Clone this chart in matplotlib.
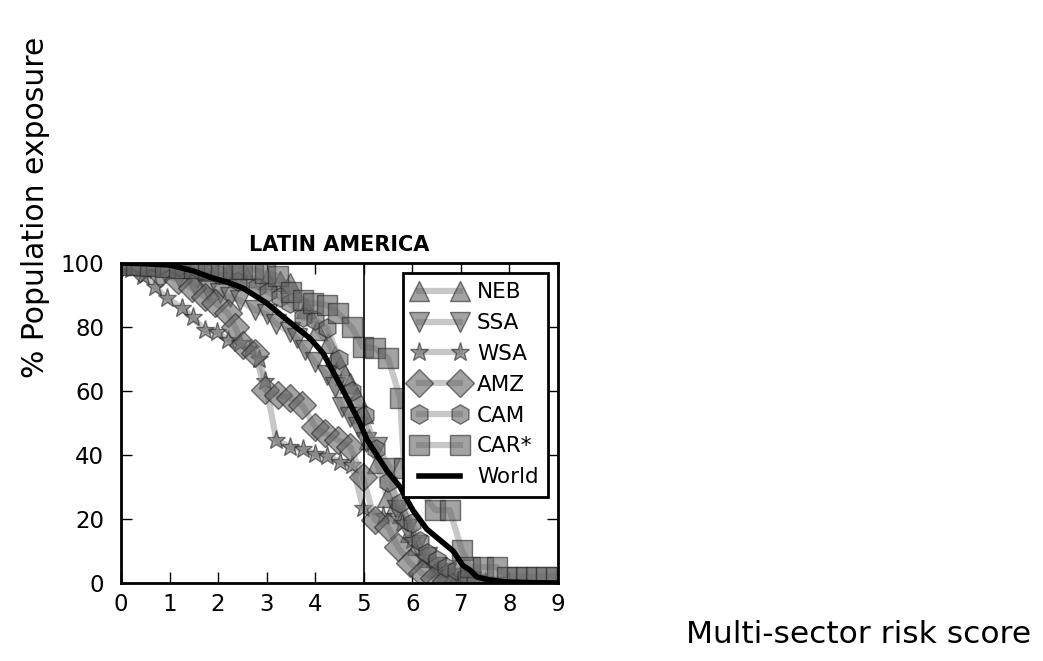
import matplotlib
matplotlib.use("Agg")
import matplotlib.pyplot as plt
import numpy as np

# score values and % population exposure
neb_x = [0, 0.3, 0.6, 1.0, 1.4, 1.8, 2.2, 2.6, 3.0, 3.27, 3.48, 3.8, 4.04, 4.27, 4.4, 4.51,
         4.62, 4.72, 4.86, 4.98, 5.1, 5.27, 5.48, 5.65, 5.79, 5.95, 6.1, 6.3, 6.5, 6.7, 6.9, 7.1]
neb_y = [100, 99.8, 99.5, 99, 98.5, 97.5, 96.5, 95.5, 95, 94.5, 93.7, 86, 79, 75, 71, 68,
         65, 62.5, 58, 53, 45, 37.5, 27, 24, 21.9, 16, 12, 8, 5, 3, 1.5, 0.5]

ssa_x = [0, 0.3, 0.6, 0.9, 1.2, 1.5, 1.79, 2.04, 2.24, 2.45, 2.76, 3.0, 3.2, 3.48, 3.62, 3.79,
         4.0, 4.24, 4.4, 4.55, 4.72, 4.88, 5.05, 5.27, 5.54, 5.68, 5.9, 6.1, 6.3, 6.5, 6.7,
         6.95, 7.2]
ssa_y = [100, 99.5, 98.5, 97, 95.5, 93.5, 91.5, 90.6, 89.4, 88.4, 85.3, 84, 81, 78.4, 76.5, 72.8,
         69, 65, 61.3, 55, 52, 48.8, 44, 42.5, 36, 22.8, 17, 12, 8, 5, 3, 1.5, 0.5]

wsa_x = [0, 0.2, 0.45, 0.7, 0.95, 1.26, 1.48, 1.73, 1.98, 2.2, 2.45, 2.66, 2.85, 2.97, 3.2,
         3.48, 3.75, 4.0, 4.24, 4.51, 4.76, 4.99, 5.4, 5.79, 6.0, 6.22, 6.5, 6.8, 7.1, 7.5]
wsa_y = [100, 98, 96, 92.5, 89, 86, 83, 79, 78.5, 76, 75, 73, 70, 63, 44.7,
         42.5, 41.8, 40.3, 39.7, 37.8, 36.9, 23.4, 21, 18.7, 13.4, 8, 4, 2, 1, 0.3]

amz_x = [0, 0.4, 0.8, 1.17, 1.46, 1.73, 1.94, 2.2, 2.35, 2.51, 2.76, 2.97, 3.23, 3.48, 3.73,
         4.0, 4.2, 4.47, 4.72, 4.98, 5.23, 5.5, 5.7, 5.95, 6.2, 6.45, 6.7]
amz_y = [100, 98.5, 97, 94.7, 92.2, 89.4, 87.5, 84.4, 80, 74.4, 71.9, 60.3, 58.7, 57.8, 55.6,
         48.8, 46.9, 44.7, 42.5, 33, 19.7, 17.5, 11.3, 6.3, 3, 1.5, 0.5]

cam_x = [0, 0.4, 0.8, 1.2, 1.6, 2.0, 2.4, 2.8, 3.03, 3.27, 3.48, 3.75, 4.0, 4.24, 4.5, 4.75,
         5.02, 5.25, 5.5, 5.75, 6.0, 6.15, 6.3, 6.5, 6.7, 6.9, 7.1, 7.3]
cam_y = [100, 99.8, 99.5, 99, 98, 96.5, 94.5, 92.5, 90.9, 89.4, 87.5, 83, 82.2, 79.7, 70, 60,
         52.5, 42, 31.6, 25, 18.7, 13, 9.4, 7.2, 5, 4, 2, 1]

car_x = [0, 0.3, 0.6, 0.9, 1.2, 1.5, 1.8, 2.05, 2.3, 2.5, 2.72, 2.97, 3.23, 3.5, 3.75, 3.95,
         4.24, 4.47, 4.75, 4.98, 5.23, 5.5, 5.75, 5.83, 6.47, 6.77, 7.02, 7.19, 7.45, 7.74,
         7.95, 8.15, 8.35, 8.55, 8.75, 8.95]
car_y = [99.5, 99.3, 99, 98.8, 98.6, 98.4, 98.3, 98.2, 98.2, 98.2, 98, 96.9, 96, 91, 88.4, 87.5,
         86.9, 84.4, 80, 73.8, 73.4, 70.3, 57.8, 35.9, 22.8, 22.8, 10.3, 5, 5, 5,
         2, 2, 2, 2, 2, 2]

world_x = [0, 0.5, 1.0, 1.5, 1.83, 2.2, 2.51, 3.0, 3.42, 3.89, 4.16, 4.57, 4.92, 5.07, 5.48,
           5.75, 5.89, 6.01, 6.3, 6.57, 6.84, 7.04, 7.19, 7.33, 7.6, 8.0, 8.5, 9.0]
world_y = [100, 99.8, 99.4, 97.5, 95.6, 94, 92.2, 87.5, 82.2, 76.5, 71.9, 60.3, 50, 44.7, 35,
           30, 26, 22.8, 16.8, 13.4, 10, 5.5, 4, 1.9, 0.9, 0.3, 0.1, 0]

series = [("NEB", neb_x, neb_y, "^", 15),
          ("SSA", ssa_x, ssa_y, "v", 15),
          ("WSA", wsa_x, wsa_y, "*", 14),
          ("AMZ", amz_x, amz_y, "D", 14),
          ("CAM", cam_x, cam_y, "h", 14),
          ("CAR*", car_x, car_y, "s", 14)]

plt.rcParams['font.family'] = ['DejaVu Sans']

fig = plt.figure(figsize=(10.43, 6.61), dpi=100)
ax = fig.add_axes([0.116, 0.118, 0.419, 0.484])

for name, x, y, m, ms in series:
    ax.plot(x, y, marker=m, markersize=ms, lw=4.5,
            color=(0.6, 0.6, 0.6, 0.55),
            mfc=(0.4, 0.4, 0.4, 0.6), mec=(0.15, 0.15, 0.15, 0.6), mew=1,
            label=name)
ax.plot(world_x, world_y, color='black', lw=4, label='World')
ax.axvline(5, color='black', lw=1.2)

ax.set_xlim(0, 9)
ax.set_ylim(0, 100)
ax.set_xticks(range(0, 10))
ax.set_yticks(range(0, 101, 20))
ax.tick_params(direction='in', length=8, width=1, top=True, right=True, labelsize=16.5)
ax.tick_params(axis='y', pad=12)
ax.tick_params(axis='x', pad=7)
for sp in ax.spines.values():
    sp.set_linewidth(2)
ax.set_title("LATIN AMERICA", fontsize=15, fontweight='bold', pad=9)

leg = ax.legend(loc='upper right', numpoints=2, fontsize=15.5, fancybox=False,
                framealpha=1, edgecolor='black', borderaxespad=0.45, handlelength=2.5,
                labelspacing=0.5, borderpad=0.45, handletextpad=0.5)
leg.get_frame().set_linewidth(2)

fig.text(0.034, 0.686, "% Population exposure", rotation=90, fontsize=21.5,
         ha='center', va='center')
fig.text(0.823, 0.018, "Multi-sector risk score", fontsize=22.5, ha='center', va='bottom')

fig.savefig("out.png", dpi=100)
